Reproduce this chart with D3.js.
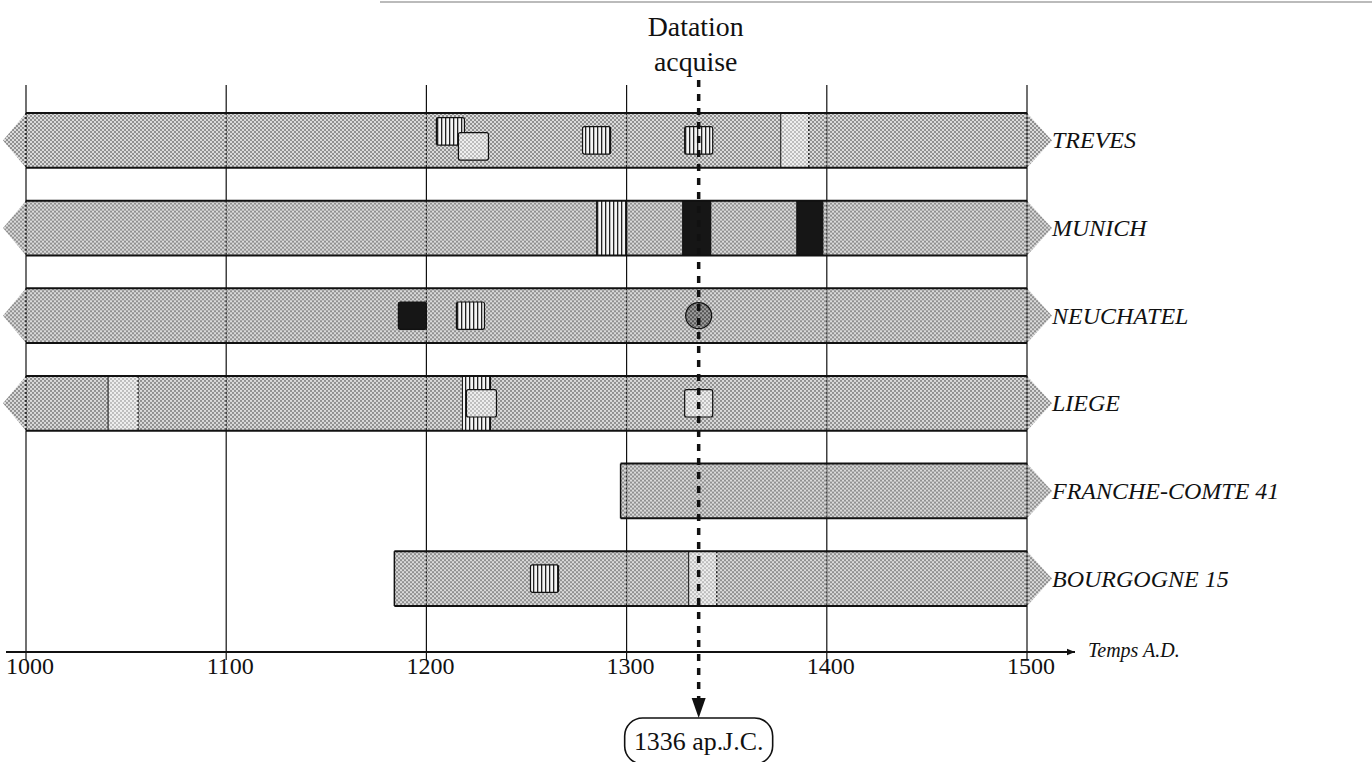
<!DOCTYPE html>
<html>
<head>
<meta charset="utf-8">
<script src="https://cdn.jsdelivr.net/npm/d3@7"></script>
<style>
  body { margin: 0; background: #fff; }
  svg { display: block; }
  svg text { font-family: 'Liberation Serif', 'Times New Roman', serif; fill: #111; }
</style>
</head>
<body>
<svg id="chart" width="1372" height="762"></svg>
<script>
// sites (rows), with the span covered by each series
const sites = ['TREVES', 'MUNICH', 'NEUCHATEL', 'LIEGE', 'FRANCHE-COMTE 41', 'BOURGOGNE 15']
const spanStart = [1000, 1000, 1000, 1000, 1297, 1184]
const spanEnd = [1500, 1500, 1500, 1500, 1500, 1500]
const openLeft = [true, true, true, true, false, false]

// marks on each row: kind = hatch | light | black | circle, shape = band (full height) | square
const marks = [
  { site: 'TREVES', from: 1205, to: 1219, kind: 'hatch', shape: 'square' },
  { site: 'TREVES', from: 1216, to: 1231, kind: 'light', shape: 'square' },
  { site: 'TREVES', from: 1278, to: 1292, kind: 'hatch', shape: 'square' },
  { site: 'TREVES', from: 1329, to: 1343, kind: 'hatch', shape: 'square' },
  { site: 'TREVES', from: 1377, to: 1391, kind: 'light', shape: 'band' },
  { site: 'MUNICH', from: 1285, to: 1300, kind: 'hatch', shape: 'band' },
  { site: 'MUNICH', from: 1328, to: 1342, kind: 'black', shape: 'band' },
  { site: 'MUNICH', from: 1385, to: 1398, kind: 'black', shape: 'band' },
  { site: 'NEUCHATEL', from: 1186, to: 1200, kind: 'black', shape: 'square' },
  { site: 'NEUCHATEL', from: 1215, to: 1229, kind: 'hatch', shape: 'square' },
  { site: 'NEUCHATEL', from: 1336, to: 1336, kind: 'circle', shape: 'circle' },
  { site: 'LIEGE', from: 1041, to: 1056, kind: 'light', shape: 'band' },
  { site: 'LIEGE', from: 1218, to: 1232, kind: 'hatch', shape: 'band' },
  { site: 'LIEGE', from: 1220, to: 1235, kind: 'light', shape: 'square' },
  { site: 'LIEGE', from: 1329, to: 1343, kind: 'light', shape: 'square' },
  { site: 'BOURGOGNE 15', from: 1252, to: 1266, kind: 'hatch', shape: 'square' },
  { site: 'BOURGOGNE 15', from: 1331, to: 1345, kind: 'light', shape: 'band' }
]

const yearTicks = [1000, 1100, 1200, 1300, 1400, 1500]
const acquiredYear = 1336
const acquiredLabel = '1336 ap.J.C.'
const titleLines = ['Datation', 'acquise']
const axisTitle = 'Temps A.D.'

const serif = "'Liberation Serif', 'Times New Roman', serif"
const svg = d3.select('#chart')

const x = d3.scaleLinear().domain([1000, 1500]).range([26, 1027])
const y = d3.scaleBand().domain(sites).range([113, 606]).paddingInner(0.375)
const bh = y.bandwidth()

const gridTop = 85, gridBottom = 660, axisY = 652

//
// patterns
//
const defs = svg.append('defs')

function stipple(id, bg, dot) {
  let p = defs.append('pattern').attr('id', id)
    .attr('width', 4).attr('height', 4).attr('patternUnits', 'userSpaceOnUse')
  p.append('rect').attr('width', 4).attr('height', 4).attr('fill', bg)
  p.append('rect').attr('width', 2).attr('height', 2).attr('fill', dot)
  p.append('rect').attr('x', 2).attr('y', 2).attr('width', 2).attr('height', 2).attr('fill', dot)
}
stipple('dots', '#dadada', '#909090')
stipple('dotsLight', '#efefef', '#bdbdbd')
stipple('dotsDark', '#a0a0a0', '#555')

let hatch = defs.append('pattern').attr('id', 'hatch')
  .attr('width', 4).attr('height', 4).attr('patternUnits', 'userSpaceOnUse')
hatch.append('rect').attr('width', 4).attr('height', 4).attr('fill', '#f4f4f4')
hatch.append('rect').attr('x', 1).attr('width', 1.3).attr('height', 4).attr('fill', '#222')

const fills = { hatch: 'url(#hatch)', light: 'url(#dotsLight)', black: '#161616', circle: 'url(#dotsDark)' }

// scan edge at the top
svg.append('line')
  .attr('x1', 380).attr('x2', 1372).attr('y1', 2).attr('y2', 2)
  .attr('stroke', '#bbb').attr('stroke-width', 2)

//
// grid
//
svg.append('g').selectAll('line')
  .data(yearTicks)
  .enter().append('line')
    .attr('x1', d => x(d)).attr('x2', d => x(d))
    .attr('y1', gridTop).attr('y2', gridBottom)
    .attr('stroke', '#111').attr('stroke-width', 1.2)

//
// rows
//
const rows = svg.append('g').selectAll('g.row')
  .data(sites)
  .enter().append('g')
    .attr('class', 'row')
    .attr('transform', d => `translate(0,${y(d)})`)

rows.each(function(site, i) {
  let g = d3.select(this)
  let x0 = x(spanStart[i]), x1 = x(spanEnd[i])
  let arrow = 25

  // arrow heads
  g.append('path')
    .attr('d', `M${x1},0 L${x1 + arrow},${bh / 2} L${x1},${bh} Z`)
    .attr('fill', 'url(#dots)')
  if (openLeft[i]) {
    g.append('path')
      .attr('d', `M${x0},0 L${x0 - arrow + 2},${bh / 2} L${x0},${bh} Z`)
      .attr('fill', 'url(#dots)')
  }

  g.append('rect')
    .attr('x', x0).attr('width', x1 - x0)
    .attr('height', bh)
    .attr('fill', 'url(#dots)')

  // grid seen through the bar
  g.selectAll('line.grid')
    .data(yearTicks.filter(t => x(t) > x0 + 2 && x(t) < x1 - 2))
    .enter().append('line')
      .attr('class', 'grid')
      .attr('x1', d => x(d)).attr('x2', d => x(d))
      .attr('y1', 0).attr('y2', bh)
      .attr('stroke', '#222').attr('stroke-width', 1.2)
      .attr('stroke-dasharray', '2,2')

  // marks
  let rowMarks = marks.filter(m => m.site === site)
  let squares = rowMarks.filter(m => m.shape === 'square')

  rowMarks.forEach(m => {
    let mx = x(m.from), mw = x(m.to) - x(m.from)
    if (m.shape === 'band') {
      g.append('rect')
        .attr('x', mx).attr('width', mw)
        .attr('height', bh)
        .attr('fill', fills[m.kind])
      g.append('line')
        .attr('x1', mx).attr('x2', mx).attr('y1', 0).attr('y2', bh)
        .attr('stroke', '#111').attr('stroke-width', 1)
      g.append('line')
        .attr('x1', mx + mw).attr('x2', mx + mw).attr('y1', 0).attr('y2', bh)
        .attr('stroke', '#111').attr('stroke-width', 1.2)
        .attr('stroke-dasharray', m.kind === 'light' ? '2,2' : null)
    } else if (m.shape === 'square') {
      // shift overlapping squares apart
      let k = squares.indexOf(m)
      let overlapPrev = k > 0 && x(squares[k - 1].to) > mx
      let overlapNext = k < squares.length - 1 && x(squares[k + 1].from) < mx + mw
      let side = bh * 0.5
      let dy = overlapPrev ? 6 : overlapNext ? -9 : 0
      g.append('rect')
        .attr('x', mx).attr('width', mw)
        .attr('y', (bh - side) / 2 + dy).attr('height', side)
        .attr('rx', 2)
        .attr('fill', fills[m.kind])
        .attr('stroke', '#111').attr('stroke-width', 1.2)
    } else {
      g.append('circle')
        .attr('cx', x(m.from)).attr('cy', bh / 2).attr('r', 13)
        .attr('fill', fills[m.kind])
        .attr('stroke', '#111').attr('stroke-width', 1.2)
    }
  })

  // top and bottom borders, ends
  g.append('line').attr('x1', x0).attr('x2', x1).attr('y1', 0).attr('y2', 0)
    .attr('stroke', '#111').attr('stroke-width', 2)
  g.append('line').attr('x1', x0).attr('x2', x1).attr('y1', bh).attr('y2', bh)
    .attr('stroke', '#111').attr('stroke-width', 2)
  g.append('line').attr('x1', x1).attr('x2', x1).attr('y1', 0).attr('y2', bh)
    .attr('stroke', '#111').attr('stroke-width', 1.5).attr('stroke-dasharray', '2,2')
  g.append('line').attr('x1', x0).attr('x2', x0).attr('y1', 0).attr('y2', bh)
    .attr('stroke', '#111').attr('stroke-width', 1.5)
    .attr('stroke-dasharray', openLeft[i] ? '2,2' : null)

  g.append('text')
    .attr('x', x1 + arrow)
    .attr('y', bh / 2 + 8)
    .style('font-family', serif)
    .attr('font-size', 24)
    .attr('font-style', 'italic')
    .text(site)
})

//
// time axis
//
defs.append('marker')
  .attr('id', 'axisHead')
  .attr('viewBox', '0 0 10 10').attr('refX', 10).attr('refY', 5)
  .attr('markerWidth', 14).attr('markerHeight', 8)
  .attr('markerUnits', 'userSpaceOnUse')
  .attr('orient', 'auto')
  .append('path').attr('d', 'M0,1 L10,5 L0,9 Z').attr('fill', '#111')

svg.append('line')
  .attr('x1', 6).attr('x2', 1075)
  .attr('y1', axisY).attr('y2', axisY)
  .attr('stroke', '#111').attr('stroke-width', 2)
  .attr('marker-end', 'url(#axisHead)')

svg.append('g').selectAll('text')
  .data(yearTicks)
  .enter().append('text')
    .attr('x', d => x(d) + 4)
    .attr('y', 674)
    .attr('text-anchor', 'middle')
    .style('font-family', serif)
    .attr('font-size', 24)
    .text(d => d)

svg.append('text')
  .attr('x', 1088).attr('y', 657)
  .style('font-family', serif)
  .attr('font-size', 20)
  .attr('font-style', 'italic')
  .text(axisTitle)

//
// acquired date
//
const ax = x(acquiredYear)

svg.append('g').selectAll('text.title')
  .data(titleLines)
  .enter().append('text')
    .attr('class', 'title')
    .attr('transform', (d, i) => `translate(${ax - 3},${36 + i * 35}) scale(1.16)`)
    .attr('text-anchor', 'middle')
    .style('font-family', serif)
    .attr('font-size', 24)
    .text(d => d)

svg.append('line')
  .attr('x1', ax).attr('x2', ax)
  .attr('y1', 80).attr('y2', 700)
  .attr('stroke', '#111').attr('stroke-width', 3.5)
  .attr('stroke-dasharray', '7,7')

svg.append('path')
  .attr('d', `M${ax - 7},698 L${ax + 7},698 L${ax},718 Z`)
  .attr('fill', '#111')

svg.append('rect')
  .attr('x', ax - 74).attr('y', 718)
  .attr('width', 148).attr('height', 46)
  .attr('rx', 18)
  .attr('fill', '#fff')
  .attr('stroke', '#111').attr('stroke-width', 1.6)

svg.append('text')
  .attr('transform', `translate(${ax},750) scale(1.08)`)
  .attr('text-anchor', 'middle')
  .style('font-family', serif)
  .attr('font-size', 24)
  .text(acquiredLabel)
</script>
</body>
</html>
